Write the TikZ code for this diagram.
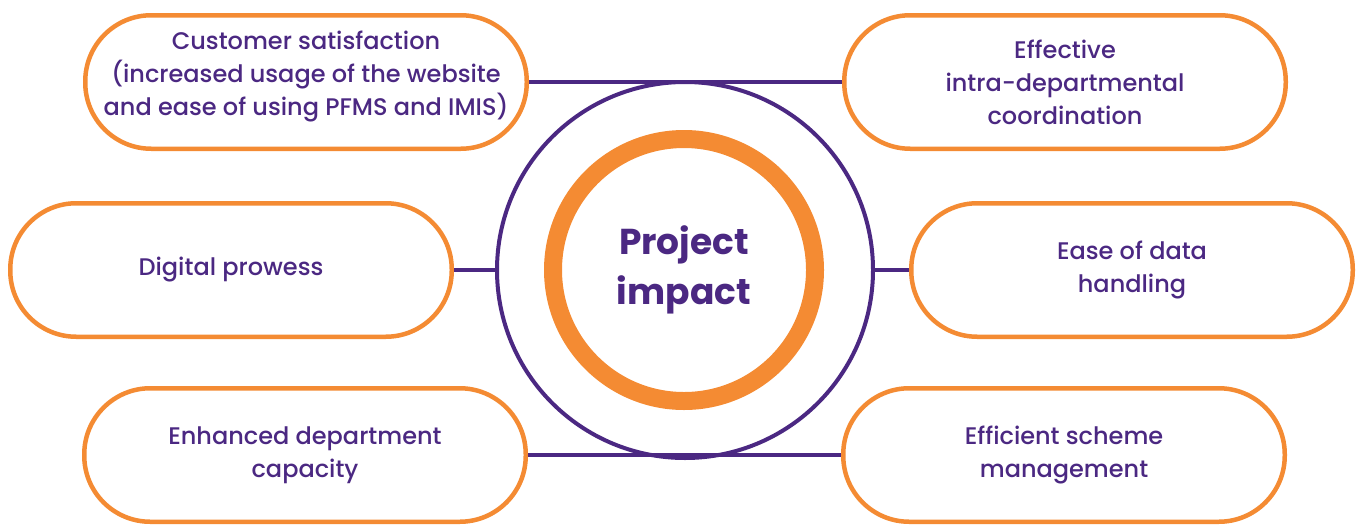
\documentclass[tikz,border=0pt]{standalone}
\usepackage{fontspec}
\setmainfont{Poppins}[UprightFont=* Medium, BoldFont=* Bold]
\usetikzlibrary{positioning}

\definecolor{impactpurple}{RGB}{75,40,130}
\definecolor{impactorange}{RGB}{244,139,51}

\begin{document}
\begin{tikzpicture}[x=0.5pt,y=0.5pt,on grid,text=impactpurple,
    font=\fontsize{12}{16.5}\selectfont]
       \tikzstyle{pill}=[draw=impactorange,line width=2.25pt,fill=white,
         rounded corners=33pt,minimum width=220.75pt,minimum height=66.75pt,
         align=center,inner sep=0pt]
       \tikzstyle{link}=[draw=impactpurple,line width=1.8pt]

       \useasboundingbox (0,0) rectangle (1365,527);

       % hub: purple circle with the orange ring inside
       \node[circle,draw=impactpurple,line width=2pt,minimum size=188pt,
         inner sep=0pt] (outer) at (685,257) {};
       \node[circle,draw=impactorange,line width=9pt,minimum size=131pt,
         align=center,font=\fontsize{18}{25}\selectfont\bfseries]
         (impact) at (684,257) {Project\\impact};

       \node[pill,text depth=8.5pt] (satisfaction) [above left=94pt and 189.5pt of outer]
         {Customer satisfaction\\(increased usage of the website\\and ease of using PFMS and IMIS)};
       \node[pill] (digital) [left=227pt of outer] {Digital prowess};
       \node[pill] (capacity) [below left=92.5pt and 190pt of outer]
         {Enhanced department\\capacity};
       \node[pill] (coordination) [above right=94pt and 190pt of outer]
         {Effective\\intra-departmental\\coordination};
       \node[pill] (data) [right=223.5pt of outer] {Ease of data\\handling};
       \node[pill] (scheme) [below right=92.5pt and 189.5pt of outer]
         {Efficient scheme\\management};

       \path[link]
       (satisfaction) edge (coordination)
       (capacity) edge (scheme)
       (digital) edge (outer)
       (outer) edge (data);

\end{tikzpicture}
\end{document}
